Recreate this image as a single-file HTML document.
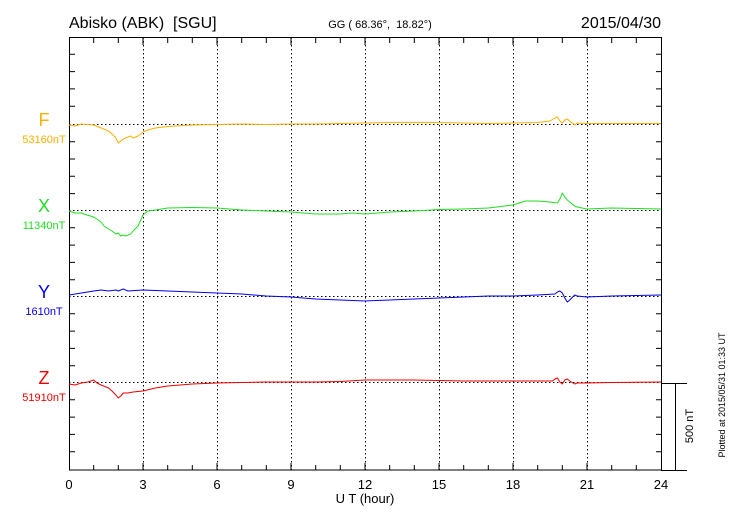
<!DOCTYPE html>
<html><head><meta charset="utf-8"><style>
html,body{margin:0;padding:0;background:#fff}
svg{display:block;font-family:"Liberation Sans",sans-serif}
text{white-space:pre}
</style></head><body>
<svg width="730" height="520" viewBox="0 0 730 520" xmlns="http://www.w3.org/2000/svg">
<rect width="730" height="520" fill="#fff"/>
<text x="69" y="28" font-size="16">Abisko (ABK)  [SGU]</text>
<text x="380" y="28" font-size="11" text-anchor="middle">GG ( 68.36°,  18.82°)</text>
<text x="661" y="28" font-size="16" text-anchor="end">2015/04/30</text>
<g stroke="#000" stroke-width="1" stroke-dasharray="1.5,2.5" fill="none">
<path d="M143.5 37V470M217.5 37V470M291.5 37V470M365.5 37V470M439.5 37V470M513.5 37V470M587.5 37V470"/>
<path d="M69 124.5H661M69 210.5H661M69 296.5H661M69 382.5H661"/>
</g>
<g stroke="#000" stroke-width="1" fill="none">
<rect x="69.5" y="37.5" width="592" height="432.5"/>
<path d="M661 383.5H687M675.5 383V470M661 470.5H687"/>
<path d="M93.7 38v5M118.3 38v5M143 38v7M167.7 38v5M192.3 38v5M217 38v7M241.7 38v5M266.3 38v5M291 38v7M315.7 38v5M340.3 38v5M365 38v7M389.7 38v5M414.3 38v5M439 38v7M463.7 38v5M488.3 38v5M513 38v7M537.7 38v5M562.3 38v5M587 38v7M611.7 38v5M636.3 38v5
M93.7 470v-5M118.3 470v-5M143 470v-7M167.7 470v-5M192.3 470v-5M217 470v-7M241.7 470v-5M266.3 470v-5M291 470v-7M315.7 470v-5M340.3 470v-5M365 470v-7M389.7 470v-5M414.3 470v-5M439 470v-7M463.7 470v-5M488.3 470v-5M513 470v-7M537.7 470v-5M562.3 470v-5M587 470v-7M611.7 470v-5M636.3 470v-5"/>
<path d="M70 54.3h5M70 71.6h5M70 88.9h5M70 106.2h5M70 141.7h5M70 159h5M70 176.3h5M70 193.6h5M70 227.8h5M70 245.1h5M70 262.4h5M70 279.7h5M70 313.8h5M70 331.1h5M70 348.4h5M70 365.7h5M70 399.8h5M70 417.1h5M70 434.4h5M70 451.7h5
M661 54.3h-5M661 71.6h-5M661 88.9h-5M661 106.2h-5M661 141.7h-5M661 159h-5M661 176.3h-5M661 193.6h-5M661 227.8h-5M661 245.1h-5M661 262.4h-5M661 279.7h-5M661 313.8h-5M661 331.1h-5M661 348.4h-5M661 365.7h-5M661 399.8h-5M661 417.1h-5M661 434.4h-5M661 451.7h-5"/>
</g>
<g fill="none" stroke-width="1" stroke-linejoin="round">
<polyline stroke="#ffb000" points="69,125 75,126 81.3,124 93.7,125 101.1,128 108.5,131 110.9,133 115.9,138 118.3,143 120.8,141 123.3,139 128,137 130.7,136 133.1,138 138.1,136 143,132 147.9,130 155.3,128 167.7,126.5 192.3,125 217,124.5 241.7,124 266.3,124.5 291,124 315.7,124 340.3,123.5 365,123 389.7,122.5 414.3,122.5 439,122.5 463.7,123 488.3,123.5 513,123 537.7,122.5 550,121 555,118 557.4,117 559.9,121 562.3,123 564.8,120 567.3,119 569.7,121 574.7,125 577.1,123 587,123.5 611.7,123.5 661,123.5"/>
<polyline stroke="#22dd22" points="69,211 75,213 81.3,213 87,215 93.7,217 101.1,222 104,226 108.5,229 112,231 115.9,234 118.3,233 120.8,236 123.3,235 125.7,236 130.7,234 133.1,231 138.1,226 143,215 147.9,211 155.3,210 167.7,208 192.3,207.5 217,208 241.7,210 266.3,211 291,212 315.7,214 340.3,214 352.7,213 365,214 389.7,212 414.3,211 439,209.5 463.7,209 488.3,208 513,205 525.3,201 537.7,201 550,202 557.4,203 559.9,199 562.3,193 564.8,197 567.3,200 569.7,202 574.7,206 577.1,207 587,209 611.7,208 636.3,208.5 661,209"/>
<polyline stroke="#0000ee" points="69,295 81.3,293 93.7,291 101.1,290 108.5,291 115.9,290 118.3,291 123.3,289 128,291 143,290 167.7,291 192.3,292 217,293 241.7,294 266.3,296 291,297 315.7,299 340.3,300 365,301 389.7,300 414.3,299 439,298 463.7,297 488.3,296 513,296 537.7,295 555,294 557.4,292 559.9,291 562.3,293 564.8,298 567.3,302 569.7,300 574.7,295 577.1,296 587,297 611.7,296 636.3,295.5 661,295"/>
<polyline stroke="#ee0000" points="69,384 75,385 81.3,383 88,382 93.7,380 97,383 101.1,385 108.5,388 112,391 115.9,395 118.3,398 120.8,396 123.3,393 128,393 133.1,392 143,391 155.3,388 167.7,386 192.3,384 217,383 241.7,382.5 266.3,382 291,382 315.7,382 340.3,381.5 365,380 389.7,380 414.3,380 439,380.5 463.7,381 488.3,381 513,381 540,381 552.5,381 555,379 557.4,378 559.9,382 562.3,384 564.8,380 567.3,379 569.7,381 574.7,384 577.1,383 587,383 611.7,382.5 661,382"/>
</g>
<g font-size="18" text-anchor="middle">
<text x="44" y="126" fill="#ffb000">F</text>
<text x="44" y="212" fill="#22dd22">X</text>
<text x="44" y="298" fill="#0000ee">Y</text>
<text x="44" y="384" fill="#ee0000">Z</text>
</g>
<g font-size="11" text-anchor="middle">
<text x="44" y="143" fill="#ffb000">53160nT</text>
<text x="44" y="229" fill="#22dd22">11340nT</text>
<text x="44" y="315" fill="#0000ee">1610nT</text>
<text x="44" y="401" fill="#ee0000">51910nT</text>
</g>
<g font-size="13" text-anchor="middle">
<text x="69" y="489">0</text><text x="143" y="489">3</text><text x="217" y="489">6</text><text x="291" y="489">9</text><text x="365" y="489">12</text><text x="439" y="489">15</text><text x="513" y="489">18</text><text x="587" y="489">21</text><text x="661" y="489">24</text>
<text x="365" y="503">U T (hour)</text>
</g>
<text transform="translate(693,426) rotate(-90)" font-size="11" text-anchor="middle">500 nT</text>
<text transform="translate(725,395) rotate(-90)" font-size="9" text-anchor="middle">Plotted at 2015/05/31 01:33 UT</text>
</svg>
</body></html>
